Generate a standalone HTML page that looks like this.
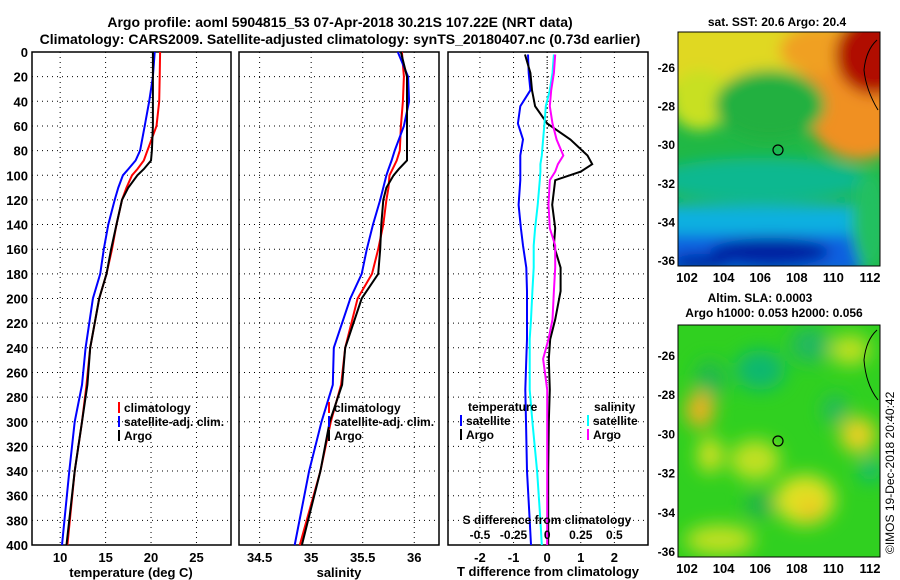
<!DOCTYPE html>
<html><head><meta charset="utf-8"><style>
html,body{margin:0;padding:0;background:#fff;}
svg{display:block;font-family:"Liberation Sans",sans-serif;font-weight:bold;}
</style></head><body>
<svg id="chart" width="900" height="580" viewBox="0 0 900 580">
<defs>
<filter id="blur1" x="-20%" y="-20%" width="140%" height="140%"><feGaussianBlur stdDeviation="7"/></filter>
<filter id="blur2" x="-20%" y="-20%" width="140%" height="140%"><feGaussianBlur stdDeviation="9"/></filter>
<clipPath id="clipTop"><rect x="678" y="32" width="202" height="234"/></clipPath>
<clipPath id="clipBot"><rect x="678" y="325" width="202" height="232"/></clipPath>
</defs>
<text x="340" y="27" text-anchor="middle" font-size="14">Argo profile: aoml 5904815_53 07-Apr-2018 30.21S 107.22E (NRT data)</text>
<text x="340" y="44" text-anchor="middle" font-size="14">Climatology: CARS2009. Satellite-adjusted climatology: synTS_20180407.nc (0.73d earlier)</text>
<g id="panels"></g>
<g id="maps">
 <g clip-path="url(#clipTop)">
  <rect x="678" y="32" width="202" height="234" fill="#20b845"/>
  <g filter="url(#blur1)">
   <rect x="660" y="20" width="240" height="70" fill="#e0d820"/>
   <ellipse cx="700" cy="100" rx="30" ry="30" fill="#c8e020"/>
   <ellipse cx="860" cy="90" rx="60" ry="70" fill="#f09020"/>
   <ellipse cx="820" cy="50" rx="40" ry="25" fill="#f0a020"/>
   <ellipse cx="875" cy="55" rx="40" ry="40" fill="#b01000"/>
   <ellipse cx="770" cy="105" rx="55" ry="35" fill="#20b040"/>
   <ellipse cx="760" cy="180" rx="110" ry="22" fill="#10b890"/>
   <rect x="660" y="205" width="200" height="30" fill="#10b0e0"/>
   <rect x="660" y="235" width="200" height="40" fill="#1060e0"/>
   <ellipse cx="770" cy="252" rx="60" ry="14" fill="#0020a0"/>
   <ellipse cx="700" cy="262" rx="30" ry="8" fill="#0020a0"/>
   <ellipse cx="870" cy="220" rx="18" ry="50" fill="#20c060"/>
  </g>
  <circle cx="778" cy="150" r="5" fill="none" stroke="#000" stroke-width="1.2"/>
  <path d="M877,40 Q866,50 864,70 Q866,90 878,110" fill="none" stroke="#000" stroke-width="1"/>
 </g>
 <rect x="678" y="32" width="202" height="234" fill="none" stroke="#000"/>
 <g clip-path="url(#clipBot)">
  <rect x="678" y="325" width="202" height="232" fill="#30d020"/>
  <g filter="url(#blur2)">
   <ellipse cx="710" cy="380" rx="15" ry="20" fill="#20b850"/>
   <ellipse cx="760" cy="370" rx="25" ry="20" fill="#10b870"/>
   <ellipse cx="810" cy="345" rx="20" ry="18" fill="#20b860"/>
   <ellipse cx="700" cy="410" rx="14" ry="18" fill="#f0b020"/>
   <ellipse cx="710" cy="455" rx="12" ry="18" fill="#d8e020"/>
   <ellipse cx="755" cy="460" rx="25" ry="20" fill="#c0e020"/>
   <ellipse cx="805" cy="500" rx="30" ry="25" fill="#e0e020"/>
   <ellipse cx="810" cy="510" rx="10" ry="10" fill="#f0c020"/>
   <ellipse cx="858" cy="435" rx="18" ry="18" fill="#e8d020"/>
   <ellipse cx="720" cy="540" rx="35" ry="15" fill="#c0e020"/>
   <ellipse cx="850" cy="350" rx="20" ry="15" fill="#c0e020"/>
   <ellipse cx="835" cy="410" rx="12" ry="15" fill="#20b860"/>
   <ellipse cx="870" cy="470" rx="10" ry="12" fill="#10b880"/>
   <ellipse cx="760" cy="505" rx="15" ry="12" fill="#20b050"/>
  </g>
  <circle cx="778" cy="441" r="5" fill="none" stroke="#000" stroke-width="1.2"/>
  <path d="M877,330 Q866,340 864,360 Q866,385 878,400" fill="none" stroke="#000" stroke-width="1"/>
 </g>
 <rect x="678" y="325" width="202" height="232" fill="none" stroke="#000"/>
 <text x="777" y="26" text-anchor="middle" font-size="12">sat. SST: 20.6 Argo: 20.4</text>
 <text x="760" y="302" text-anchor="middle" font-size="12">Altim. SLA: 0.0003</text>
 <text x="774" y="317" text-anchor="middle" font-size="12">Argo h1000: 0.053 h2000: 0.056</text>
 <text transform="translate(894,554) rotate(-90)" font-size="12" font-weight="normal">©IMOS 19-Dec-2018 20:40:42</text>
</g>
</svg>
<script>
// ---------- data ----------
const depths = [0,20,40,60,80,88,95,100,110,120,140,160,180,200,240,270,300,340,400];
const tempClim = [21.0,20.95,20.9,20.6,19.6,19.2,18.5,17.9,17.3,16.8,16.2,15.7,15.1,14.3,13.3,12.9,12.4,11.6,10.8];
const tempSat = [20.4,20.2,19.8,19.3,18.8,18.3,17.5,16.9,16.4,16.0,15.3,14.8,14.4,13.6,12.8,12.4,11.6,11.0,10.2];
const tempArgo = [20.2,20.2,20.2,20.2,20.1,20.0,19.2,18.5,17.5,16.8,16.2,15.6,15.1,14.3,13.3,13.0,12.4,11.6,10.7];
const salClim = [35.88,35.90,35.89,35.87,35.86,35.83,35.79,35.76,35.75,35.73,35.70,35.65,35.59,35.45,35.33,35.29,35.19,35.09,34.89];
const salSat = [35.84,35.94,35.95,35.90,35.81,35.78,35.75,35.73,35.70,35.67,35.60,35.54,35.49,35.38,35.22,35.21,35.10,34.98,34.84];
const salArgo = [35.87,35.93,35.93,35.93,35.93,35.93,35.85,35.80,35.73,35.70,35.68,35.67,35.65,35.49,35.33,35.30,35.18,35.09,34.91];
const diffDepths = [2,17,31,44,58,71,84,91,97,104,124,143,157,175,194,217,233,249,274,300,340,380,400];
const tDiffSat = [-0.57,-0.55,-0.5,-0.8,-0.87,-0.72,-0.8,-0.8,-0.8,-0.8,-0.85,-0.78,-0.72,-0.62,-0.6,-0.6,-0.6,-0.62,-0.65,-0.63,-0.6,-0.52,-0.48];
const tDiffArgo = [-0.66,-0.5,-0.45,-0.36,0,0.69,1.2,1.34,1.0,0.24,0.15,0.24,0.2,0.4,0.4,0.24,0.09,0.05,0.08,0.05,0.03,0.03,0.03];
const sDiffSat = [0.05,0.04,0.02,-0.01,-0.02,-0.03,-0.04,-0.05,-0.05,-0.055,-0.07,-0.09,-0.1,-0.1,-0.11,-0.12,-0.13,-0.13,-0.13,-0.11,-0.075,-0.05,-0.04];
const sDiffArgo = [0.06,0.05,0.03,0.02,0.04,0.07,0.12,0.08,0.06,0.02,0.01,0.02,0.06,0.06,0.05,0.04,0.01,-0.03,0.0,0.0,0.0,0.0,0.0];
const depthTicks = [0,20,40,60,80,100,120,140,160,180,200,220,240,260,280,300,320,340,360,380,400];
const tempTicks = [10,15,20,25];
const salTicks = [34.5,35,35.5,36];
const tDiffTicks = [-2,-1,0,1,2];
const sDiffTicks = [-0.5,-0.25,0,0.25,0.5];
const sDiffLabels = ["-0.5","-0.25","0","0.25","0.5"];
const lonTicks = [102,104,106,108,110,112];
const latTicks = [-26,-28,-30,-32,-34,-36];

const NS='http://www.w3.org/2000/svg';
const root=document.getElementById('panels');
function mk(tag,attrs,parent){const e=document.createElementNS(NS,tag);for(const k in attrs)e.setAttribute(k,attrs[k]);(parent||root).appendChild(e);return e;}
const Y0=52,Y1=545;
const yD=d=>Y0+(d/400)*(Y1-Y0);
function lin(d0,d1,r0,r1){return v=>r0+(v-d0)/(d1-d0)*(r1-r0);}
const xT=lin(6.9,28.8,32,231);
const xS=lin(34.3,36.24,239,439);
const xTd=lin(-2.95,3.0,448,648);
const xSd=v=>xTd(v*4);

function panel(x0,x1,ticks,xf,labels,name,yLabels){
  const g=mk('g',{});
  
  
  depthTicks.forEach(d=>{
    const l=mk('line',{x1:x0,x2:x1,y1:yD(d),y2:yD(d),stroke:'#000','stroke-dasharray':'1,4','stroke-width':1},g);
    
    
    if(yLabels){const t=mk('text',{x:x0-4,y:yD(d)+5,'text-anchor':'end','font-size':13},g);t.textContent=d;
      
      }
  });
  ticks.forEach((v,i)=>{
    const l=mk('line',{x1:xf(v),x2:xf(v),y1:Y0,y2:Y1,stroke:'#000','stroke-dasharray':'1,4','stroke-width':1},g);
    
    
    if(labels){const t=mk('text',{x:xf(v),y:Y1+17,'text-anchor':'middle','font-size':13},g);t.textContent=labels[i];
      
      }
  });
  const r=mk('rect',{x:x0,y:Y0,width:x1-x0,height:Y1-Y0,fill:'none',stroke:'#000','stroke-width':1.5},g);
  
  
  return g;
}
function line(xs,ds,xf,color,name,w){
  const pts=xs.map((v,i)=>xf(v).toFixed(1)+','+yD(ds[i]).toFixed(1)).join(' ');
  const p=mk('polyline',{points:pts,fill:'none',stroke:color,'stroke-width':w||2});
  
  
}
function txt(x,y,s,name,anchor,size){const t=mk('text',{x:x,y:y,'font-size':size||12,'text-anchor':anchor||'start'});t.textContent=s;
  
  return t;}
function legendEntry(x,y,color,s,name){
  const l=mk('line',{x1:x,x2:x,y1:y-10,y2:y+1,stroke:color,'stroke-width':2});
  
  
  txt(x+5,y,s,name);
}

panel(32,231,tempTicks,xT,tempTicks.map(String),'temperature-panel',true);
line(tempClim,depths,xT,'#f00','temp-climatology-line');
line(tempSat,depths,xT,'#00f','temp-satellite-line');
line(tempArgo,depths,xT,'#000','temp-argo-line');
txt(131,577,'temperature (deg C)','temperature-axis-title','middle',13);
legendEntry(119,412,'#f00','climatology','legend-climatology');
legendEntry(119,426,'#00f','satellite-adj. clim.','legend-satellite-adj');
legendEntry(119,440,'#000','Argo','legend-argo');

panel(239,439,salTicks,xS,salTicks.map(String),'salinity-panel',false);
line(salClim,depths,xS,'#f00','sal-climatology-line');
line(salSat,depths,xS,'#00f','sal-satellite-line');
line(salArgo,depths,xS,'#000','sal-argo-line');
txt(339,577,'salinity','salinity-axis-title','middle',13);
legendEntry(329,412,'#f00','climatology','legend-climatology-sal');
legendEntry(329,426,'#00f','satellite-adj. clim.','legend-satellite-adj-sal');
legendEntry(329,440,'#000','Argo','legend-argo-sal');

panel(448,648,tDiffTicks,xTd,tDiffTicks.map(String),'difference-panel',false);
const zl=mk('line',{x1:xTd(0),x2:xTd(0),y1:Y0,y2:Y1,stroke:'#000','stroke-dasharray':'1,3'});


line(tDiffSat,diffDepths,xTd,'#00f','tdiff-satellite-line');
line(tDiffArgo,diffDepths,xTd,'#000','tdiff-argo-line');
line(sDiffSat,diffDepths,xSd,'#0ff','sdiff-satellite-line');
line(sDiffArgo,diffDepths,xSd,'#f0f','sdiff-argo-line');
txt(548,576,'T difference from climatology','tdiff-axis-title','middle',13);
txt(547,524,'S difference from climatology','sdiff-axis-title','middle');
sDiffTicks.forEach((v,i)=>txt(xSd(v),539,sDiffLabels[i],'sdiff-tick-label','middle'));
txt(468,411,'temperature','legend-title-temperature');
legendEntry(461,425,'#00f','satellite','legend-tdiff-satellite');
legendEntry(461,439,'#000','Argo','legend-tdiff-argo');
txt(594,411,'salinity','legend-title-salinity');
legendEntry(588,425,'#0ff','satellite','legend-sdiff-satellite');
legendEntry(588,439,'#f0f','Argo','legend-sdiff-argo');

// map axes
const lonX=lin(102,112,687,870);
function mapAxes(yt,yb,latY0){
  lonTicks.forEach(v=>{
    mk('line',{x1:lonX(v),x2:lonX(v),y1:yb,y2:yb-4,stroke:'#000'});
    mk('line',{x1:lonX(v),x2:lonX(v),y1:yt,y2:yt+4,stroke:'#000'});
    txt(lonX(v),yb+16,String(v),'lon-tick-label','middle',13);
  });
  latTicks.forEach(v=>{
    const y=latY0+(-26-v)*((yb-6-latY0)/10);
    mk('line',{x1:876,x2:880,y1:y,y2:y,stroke:'#000'});
    mk('line',{x1:678,x2:682,y1:y,y2:y,stroke:'#000'});
    txt(675,y+5,String(v),'lat-tick-label','end');
  });
}
mapAxes(32,266,67);
mapAxes(325,557,355);
</script>
</body></html>
